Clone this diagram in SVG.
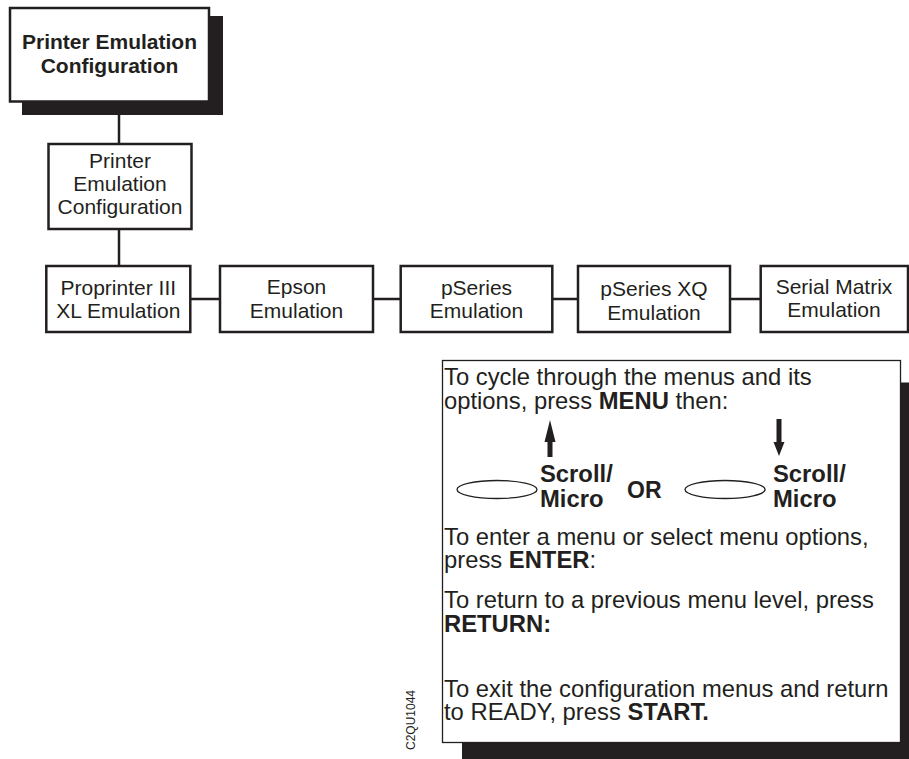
<svg xmlns="http://www.w3.org/2000/svg" width="909" height="759" viewBox="0 0 909 759">
<style>
text{font-family:"Liberation Sans",Arial,sans-serif;fill:#231f20}
.t{font-size:21px;text-anchor:middle}
.b{font-weight:bold}
.box{fill:#fff;stroke:#231f20;stroke-width:2.5}
.shadow{fill:#231f20}
.ln{stroke:#231f20;stroke-width:2.5;fill:none}
.i{font-size:23.8px}
.ell{fill:#fff;stroke:#231f20;stroke-width:1.3}
</style>
<g id="connectors">
<line class="ln" x1="119" y1="115" x2="119" y2="144"/>
<line class="ln" x1="119" y1="229" x2="119" y2="266"/>
<line class="ln" x1="190" y1="299" x2="220" y2="299"/>
<line class="ln" x1="373" y1="299" x2="401" y2="299"/>
<line class="ln" x1="552" y1="299" x2="578" y2="299"/>
<line class="ln" x1="730" y1="299" x2="761" y2="299"/>
</g>
<g id="root">
<rect class="shadow" x="22" y="16" width="201" height="99"/>
<rect class="box" x="10" y="8" width="199" height="93.5"/>
<text class="t b"><tspan x="109.5" y="49">Printer Emulation</tspan><tspan x="109.5" y="73">Configuration</tspan></text>
</g>
<g id="pec">
<rect class="box" x="48.5" y="144" width="143" height="85"/>
<text class="t"><tspan x="120" y="168">Printer</tspan><tspan x="120" y="191">Emulation</tspan><tspan x="120" y="214">Configuration</tspan></text>
</g>
<g id="proprinter">
<rect class="box" x="46.3" y="266" width="144" height="66"/>
<text class="t"><tspan x="118.3" y="295">Proprinter III</tspan><tspan x="118.3" y="318">XL Emulation</tspan></text>
</g>
<g id="epson">
<rect class="box" x="220" y="266" width="153" height="66"/>
<text class="t"><tspan x="296.5" y="294">Epson</tspan><tspan x="296.5" y="318">Emulation</tspan></text>
</g>
<g id="pseries">
<rect class="box" x="400.7" y="266" width="151.6" height="66"/>
<text class="t"><tspan x="476.5" y="295">pSeries</tspan><tspan x="476.5" y="318">Emulation</tspan></text>
</g>
<g id="pseriesxq">
<rect class="box" x="578" y="266" width="152" height="66"/>
<text class="t"><tspan x="654" y="296">pSeries XQ</tspan><tspan x="654" y="320">Emulation</tspan></text>
</g>
<g id="serialmatrix">
<rect class="box" x="760.7" y="266" width="147.3" height="66"/>
<text class="t"><tspan x="834" y="294">Serial Matrix</tspan><tspan x="834" y="317">Emulation</tspan></text>
</g>
<g id="instructions">
<rect class="shadow" x="462" y="382.5" width="460" height="390"/>
<rect x="442.5" y="360.5" width="458" height="382" fill="#fff" stroke="#231f20" stroke-width="1.3"/>
<text class="i"><tspan x="444" y="385">To cycle through the menus and its</tspan><tspan x="444" y="409">options, press <tspan class="b">MENU</tspan> then:</tspan></text>
<polygon points="550,420 555.5,442 552.5,442 552.5,457 547.5,457 547.5,442 544.5,442" fill="#231f20"/>
<polygon points="779,456 784.5,442 781.5,442 781.5,419 776.5,419 776.5,442 773.5,442" fill="#231f20"/>
<ellipse class="ell" cx="497" cy="489.5" rx="40" ry="9"/>
<ellipse class="ell" cx="725" cy="489.5" rx="40" ry="9"/>
<text class="i b"><tspan x="540" y="482">Scroll/</tspan><tspan x="540" y="507">Micro</tspan></text>
<text class="b" x="627" y="498" font-size="23">OR</text>
<text class="i b"><tspan x="773" y="482">Scroll/</tspan><tspan x="773" y="507">Micro</tspan></text>
<text class="i"><tspan x="444" y="545">To enter a menu or select menu options,</tspan><tspan x="444" y="568">press <tspan class="b">ENTER</tspan>:</tspan></text>
<text class="i"><tspan x="444" y="608">To return to a previous menu level, press</tspan><tspan x="444" y="632" class="b">RETURN:</tspan></text>
<text class="i"><tspan x="444" y="697">To exit the configuration menus and return</tspan><tspan x="444" y="720">to READY, press <tspan class="b">START.</tspan></tspan></text>
</g>
<text x="415" y="750" font-size="12" transform="rotate(-90 415 750)">C2QU1044</text>
</svg>
